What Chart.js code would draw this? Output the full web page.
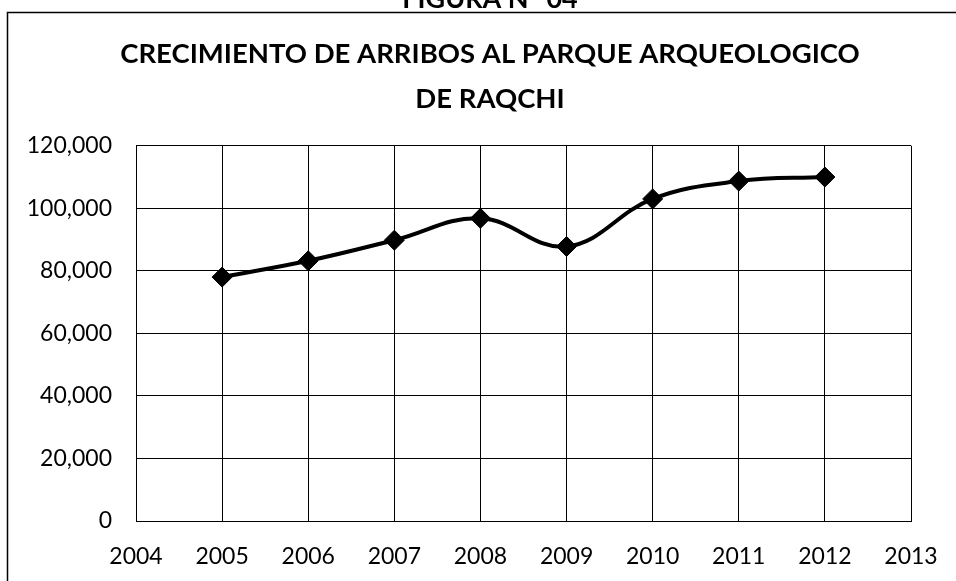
<!DOCTYPE html>
<html>
<head>
<meta charset="utf-8">
<script src="https://cdn.jsdelivr.net/npm/chart.js@4/dist/chart.umd.min.js"></script>
<style>
  html, body { margin: 0; padding: 0; background: #fff; }
  canvas { display: block; }
</style>
</head>
<body>
<canvas id="c" width="956" height="581"></canvas>
<script>
// ---- data ----
const years = [2005, 2006, 2007, 2008, 2009, 2010, 2011, 2012];
const arrivals = [78000, 83200, 89800, 96800, 87800, 103000, 108700, 110000];
const titleLines = ['CRECIMIENTO DE ARRIBOS AL PARQUE ARQUEOLOGICO', 'DE RAQCHI'];
const figureLabel = 'FIGURA N° 04';
const xMin = 2004, xMax = 2013;
const yMin = 0, yMax = 120000, yStep = 20000;

const points = years.map((y, i) => ({ x: y, y: arrivals[i] }));

const frame = {
  id: 'frame',
  beforeDraw(chart) {
    const ctx = chart.ctx;
    ctx.save();
    ctx.fillStyle = '#fff';
    ctx.fillRect(0, 0, chart.width, chart.height);
    ctx.restore();
  },
  afterDraw(chart) {
    const ctx = chart.ctx;
    ctx.save();
    ctx.strokeStyle = '#000';
    ctx.lineWidth = 1.5;
    ctx.beginPath();
    ctx.moveTo(7.5, chart.height);
    ctx.lineTo(7.5, 12.5);
    ctx.lineTo(chart.width, 12.5);
    ctx.stroke();
    ctx.fillStyle = '#000';
    ctx.font = 'bold 27px Lato';
    ctx.textAlign = 'center';
    ctx.textBaseline = 'alphabetic';
    ctx.fillText(figureLabel, 490, 8);
    ctx.restore();
  }
};

new Chart(document.getElementById('c'), {
  type: 'line',
  data: {
    datasets: [{
      data: points,
      borderColor: '#000',
      backgroundColor: '#000',
      borderWidth: 4,
      tension: 0.4,
      pointStyle: 'rectRot',
      pointRadius: 10,
      pointBorderWidth: 1,
      pointBackgroundColor: '#000',
      pointBorderColor: '#000',
      fill: false
    }]
  },
  options: {
    responsive: false,
    devicePixelRatio: 1,
    animation: false,
    layout: { padding: { left: 24, right: 0, top: 0, bottom: 0 } },
    plugins: {
      legend: { display: false },
      tooltip: { enabled: false },
      title: {
        display: true,
        text: titleLines,
        color: '#000',
        font: { family: 'Lato', weight: 'bold', size: 27.5, lineHeight: 1.65 },
        padding: { top: 31, bottom: 24 }
      }
    },
    scales: {
      x: {
        type: 'linear',
        min: xMin,
        max: xMax,
        ticks: {
          stepSize: 1,
          color: '#000',
          font: { family: 'Lato', size: 23 },
          padding: 22,
          maxRotation: 0,
          callback: v => String(v)
        },
        grid: { color: '#000', lineWidth: 1, drawTicks: false },
        border: { display: true, color: '#000', width: 1 },
        afterFit: s => { s.height = 60; s.paddingRight = 45; }
      },
      y: {
        min: yMin,
        max: yMax,
        ticks: {
          stepSize: yStep,
          color: '#000',
          font: { family: 'Lato', size: 23 },
          padding: 24,
          callback: v => v.toLocaleString('en-US')
        },
        grid: { color: '#000', lineWidth: 1, drawTicks: false },
        border: { display: true, color: '#000', width: 1 },
        afterFit: s => { s.width = 112; }
      }
    }
  },
  plugins: [frame]
});
</script>
</body>
</html>
